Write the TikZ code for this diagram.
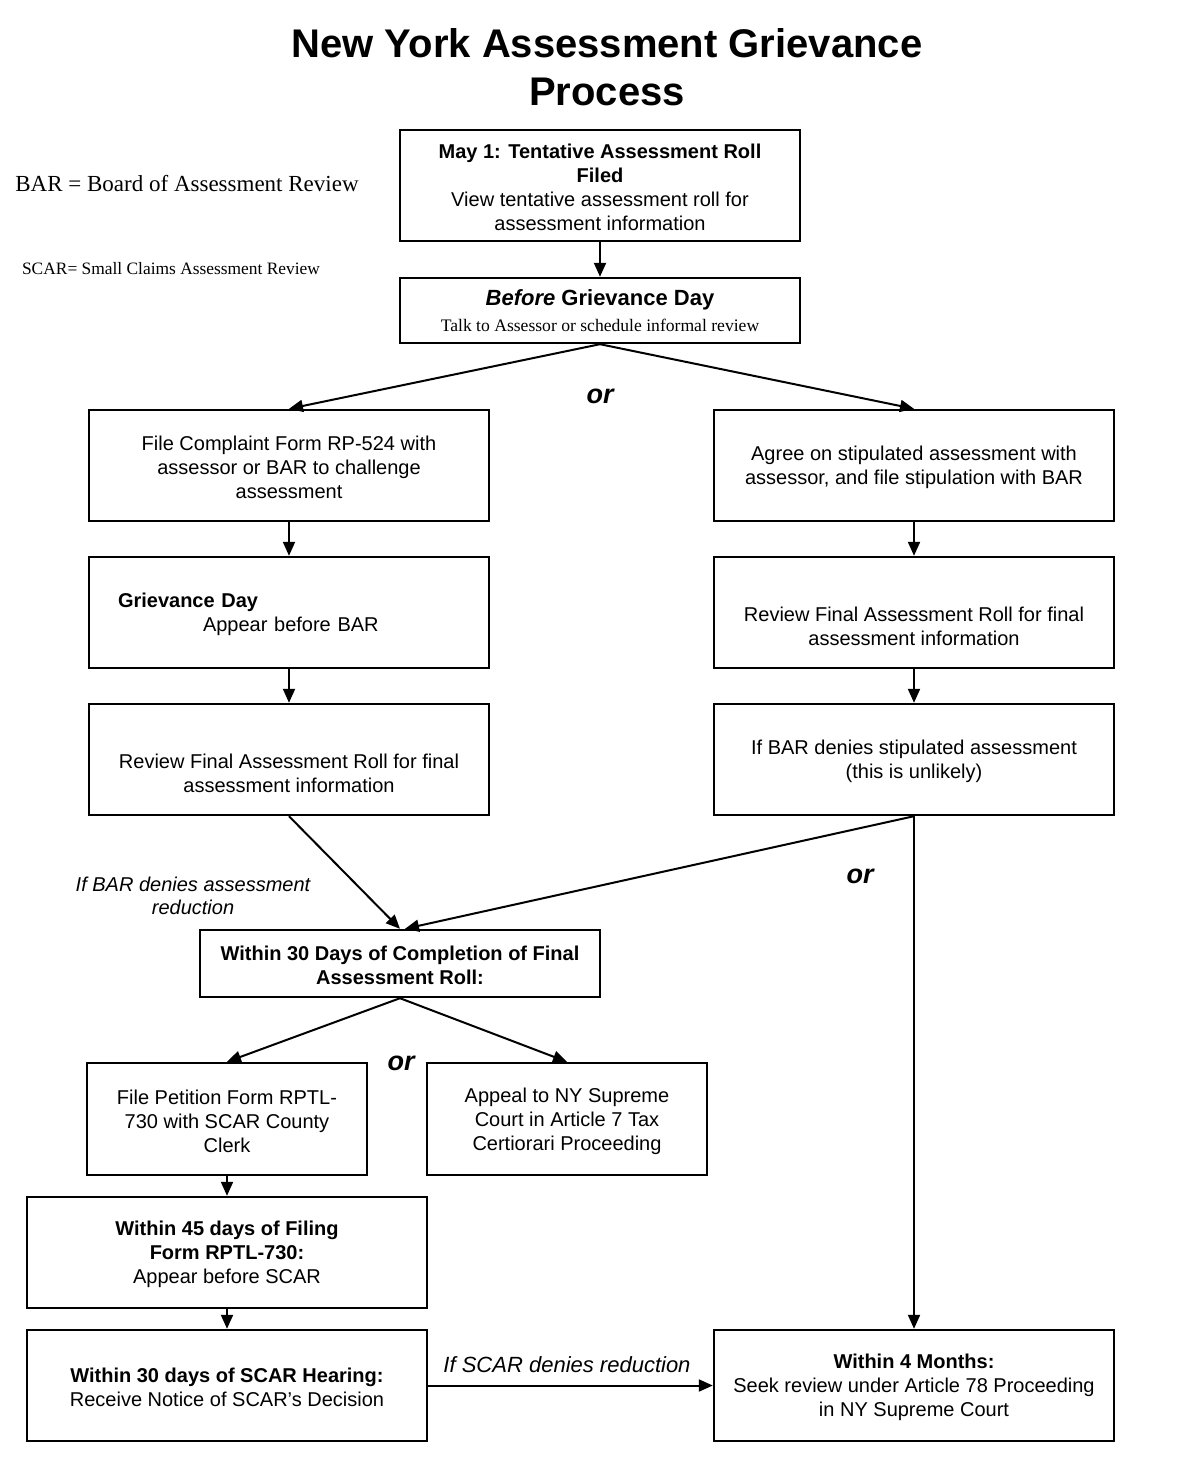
\documentclass[tikz,border=0pt]{standalone}
\usepackage{fontspec}
\setmainfont{Liberation Sans}
\newfontfamily\serifff{Liberation Serif}
\usetikzlibrary{arrows.meta}
\newcommand{\topfix}{\rule{0pt}{9.4pt}}
\tikzset{
  box/.style={draw, line width=1.2pt, inner sep=0pt, align=center,
    font=\fontsize{10}{12}\selectfont, minimum width=200pt, minimum height=55.5pt},
  arr/.style={-{Triangle[length=7pt,width=6pt]}, line width=1pt},
  orlbl/.style={font=\fontsize{13.5}{16}\selectfont\bfseries\itshape, inner sep=0pt},
  cond/.style={font=\fontsize{10}{11.5}\selectfont\itshape, align=center, inner sep=0pt}
}
\begin{document}
\begin{tikzpicture}[x=0.5pt,y=-0.5pt]
\useasboundingbox (0,0) rectangle (1200,1477);
\fill[white] (0,0) rectangle (1200,1477);
% title and legends
\node[font=\fontsize{20}{24}\selectfont\bfseries, align=center, inner sep=0pt] (title) at (607,67)
  {New York Assessment Grievance\\Process};
\node[font=\fontsize{11.5}{13}\serifff, inner sep=0pt] (barlegend) at (187,184) {BAR = Board of Assessment Review};
\node[font=\fontsize{8.7}{10}\serifff, inner sep=0pt] (scarlegend) at (171,269) {SCAR= Small Claims Assessment Review};
% boxes
\node[box] (may) at (600,185.5) {\topfix\textbf{May 1: Tentative Assessment Roll}\\\textbf{Filed}\\View tentative assessment roll for\\assessment information};
\node[box, minimum height=32.5pt] (before) at (600,310.5)
  {{\fontsize{11}{13}\selectfont\textbf{\textit{Before} Grievance Day}}\\[1pt]{\fontsize{8.8}{11}\serifff Talk to Assessor or schedule informal review}};
\node[box] (file) at (289,465.5) {\topfix File Complaint Form RP-524 with\\assessor or BAR to challenge\\assessment};
\node[box] (agree) at (914,465.5) {\topfix Agree on stipulated assessment with\\assessor, and file stipulation with BAR};
\node[box, text width=171pt, align=left] (gday) at (289,612.5) {\topfix\textbf{Grievance Day}\\\hspace*{42.5pt}Appear before BAR};
\node[box] (rfr) at (914,612.5) {\topfix\\Review Final Assessment Roll for final\\assessment information};
\node[box] (rfl) at (289,759.5) {\topfix\\Review Final Assessment Roll for final\\assessment information};
\node[box] (deny) at (914,759.5) {\topfix If BAR denies stipulated assessment\\(this is unlikely)};
\node[box, minimum height=33.5pt] (w30) at (400,963.5) {\topfix\textbf{Within 30 Days of Completion of Final}\\\textbf{Assessment Roll:}};
\node[box, minimum width=140pt, minimum height=56pt] (pet) at (227,1119) {\topfix File Petition Form RPTL-\\730 with SCAR County\\Clerk};
\node[box, minimum width=140pt, minimum height=56pt] (app) at (567,1119) {\topfix Appeal to NY Supreme\\Court in Article 7 Tax\\Certiorari Proceeding};
\node[box] (w45) at (227,1252.5) {\topfix\textbf{Within 45 days of Filing}\\\textbf{Form RPTL-730:}\\Appear before SCAR};
\node[box] (w30s) at (227,1385.5) {\topfix\textbf{Within 30 days of SCAR Hearing:}\\Receive Notice of SCAR’s Decision};
\node[box] (w4) at (914,1385.5) {\topfix\textbf{Within 4 Months:}\\Seek review under Article 78 Proceeding\\in NY Supreme Court};
% labels
\node[orlbl] (or1) at (600,396) {or};
\node[orlbl] (or2) at (860,876) {or};
\node[orlbl] (or3) at (401,1063) {or};
\node[cond] (ifbar) at (193,896) {If BAR denies assessment\\reduction};
\node[cond, font=\fontsize{11}{13}\selectfont\itshape] (ifscar) at (567,1365) {If SCAR denies reduction};
% connectors
\draw[arr] (may) -- (before);
\draw[arr] (before.south) -- (file.north);
\draw[arr] (before.south) -- (agree.north);
\draw[arr] (file) -- (gday);
\draw[arr] (gday) -- (rfl);
\draw[arr] (agree) -- (rfr);
\draw[arr] (rfr) -- (deny);
\draw[arr] (rfl.south) -- (w30.north);
\draw[arr] (deny.south) -- ([xshift=2.5pt]w30.north);
\draw[arr] (deny.south) -- (w4.north);
\draw[arr] (w30.south) -- (pet.north);
\draw[arr] (w30.south) -- (app.north);
\draw[arr] (pet) -- (w45);
\draw[arr] (w45) -- (w30s);
\draw[arr] (w30s) -- (w4);
\end{tikzpicture}
\end{document}
